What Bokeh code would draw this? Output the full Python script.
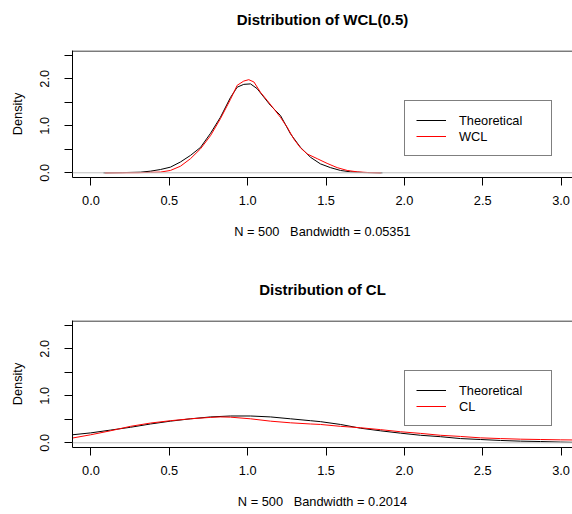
from bokeh.plotting import figure
from bokeh.layouts import column
from bokeh.models import (Range1d, FixedTicker, NumeralTickFormatter, Span,
                          Legend, LegendItem, Title)
from bokeh.embed import file_html
from bokeh.resources import INLINE

# ---------------- data ----------------
x_ticks = [0.0, 0.5, 1.0, 1.5, 2.0, 2.5, 3.0]
y_ticks = [0.0, 0.5, 1.0, 1.5, 2.0, 2.5]

wcl_theo_x = [0.08, 0.2, 0.316, 0.38, 0.444, 0.507, 0.571, 0.635, 0.699, 0.763,
              0.826, 0.89, 0.933, 0.975, 1.018, 1.06, 1.103, 1.146, 1.209,
              1.273, 1.337, 1.401, 1.464, 1.528, 1.592, 1.656, 1.74, 1.86]
wcl_theo_y = [0.0, 0.004, 0.013, 0.035, 0.07, 0.12, 0.23, 0.37, 0.54, 0.84,
              1.18, 1.60, 1.82, 1.88, 1.89, 1.79, 1.61, 1.43, 1.22,
              0.83, 0.54, 0.33, 0.19, 0.11, 0.05, 0.02, 0.005, 0.0]

wcl_x = [0.09, 0.3, 0.38, 0.444, 0.507, 0.571, 0.635, 0.699, 0.763, 0.826,
         0.89, 0.933, 0.975, 1.007, 1.04, 1.082, 1.124, 1.167, 1.209, 1.252,
         1.294, 1.337, 1.38, 1.444, 1.507, 1.571, 1.635, 1.699, 1.77, 1.85]
wcl_y = [0.0, 0.002, 0.01, 0.015, 0.05, 0.14, 0.30, 0.51, 0.79, 1.15,
         1.56, 1.86, 1.95, 1.98, 1.93, 1.71, 1.54, 1.36, 1.18, 0.97,
         0.72, 0.53, 0.40, 0.30, 0.20, 0.11, 0.05, 0.02, 0.005, 0.0]

cl_theo_x = [-0.12, -0.003, 0.124, 0.252, 0.38, 0.507, 0.635, 0.763, 0.89,
             1.018, 1.146, 1.273, 1.401, 1.464, 1.592, 1.72, 1.847, 1.975,
             2.103, 2.23, 2.358, 2.486, 2.613, 2.741, 2.869, 2.996, 3.08]
cl_theo_y = [0.17, 0.21, 0.27, 0.33, 0.40, 0.46, 0.51, 0.55, 0.57,
             0.57, 0.55, 0.51, 0.47, 0.45, 0.39, 0.31, 0.255, 0.205,
             0.16, 0.13, 0.09, 0.07, 0.05, 0.035, 0.027, 0.015, 0.01]

cl_x = [-0.12, -0.003, 0.124, 0.252, 0.38, 0.507, 0.635, 0.763, 0.826, 0.89,
        1.018, 1.146, 1.273, 1.401, 1.464, 1.592, 1.72, 1.847, 1.975, 2.103,
        2.23, 2.358, 2.486, 2.613, 2.741, 2.869, 2.996, 3.08]
cl_y = [0.10, 0.17, 0.255, 0.35, 0.42, 0.47, 0.51, 0.54, 0.55, 0.545,
        0.51, 0.46, 0.425, 0.40, 0.39, 0.35, 0.32, 0.28, 0.235, 0.20,
        0.16, 0.135, 0.105, 0.09, 0.077, 0.07, 0.063, 0.06]

NB = "\u00a0"
panels = [
    dict(title="Distribution of WCL(0.5)",
         sub="N = 500" + NB * 3 + "Bandwidth = 0.05351",
         tx=wcl_theo_x, ty=wcl_theo_y, ex=wcl_x, ey=wcl_y, label="WCL", height=270),
    dict(title="Distribution of CL",
         sub="N = 500" + NB * 3 + "Bandwidth = 0.2014",
         tx=cl_theo_x, ty=cl_theo_y, ex=cl_x, ey=cl_y, label="CL", height=244),
]

FONT = "Liberation Sans"
FS = "12.8px"


def make_panel(d):
    h = d["height"]
    p = figure(width=572, height=h, output_backend="svg", toolbar_location=None,
               x_range=Range1d(-0.118, 3.073), y_range=Range1d(-0.1, 2.6),
               min_border_left=72, min_border_right=0, min_border_top=50,
               min_border_bottom=h - 177)
    p.outline_line_color = None
    p.xgrid.visible = False
    p.ygrid.visible = False
    p.background_fill_color = "white"
    p.border_fill_color = "white"

    # invisible spacer between frame and title
    p.add_layout(Title(text=NB, text_font_size="14px", standoff=0,
                       text_color="white"), "above")

    p.title.text = d["title"]
    p.title.align = "center"
    p.title.text_font = FONT
    p.title.text_font_size = "15px"
    p.title.text_font_style = "bold"
    p.title.text_color = "black"
    p.title.standoff = 10
    p.title.offset = 4

    for ax in (p.xaxis[0], p.yaxis[0]):
        ax.axis_line_color = "black"
        ax.axis_line_width = 1
        ax.major_tick_line_color = "black"
        ax.major_tick_out = 8
        ax.major_tick_in = 0
        ax.minor_tick_line_color = None
        ax.major_label_text_font = FONT
        ax.major_label_text_font_size = FS
        ax.major_label_text_color = "black"
        ax.axis_label_text_font = FONT
        ax.axis_label_text_font_size = FS
        ax.axis_label_text_font_style = "normal"
        ax.axis_label_text_color = "black"

    p.xaxis.ticker = FixedTicker(ticks=x_ticks)
    p.xaxis.formatter = NumeralTickFormatter(format="0.0")
    p.xaxis.major_label_standoff = 10
    p.xaxis.axis_label = d["sub"]
    p.xaxis.axis_label_standoff = 16

    p.yaxis.ticker = FixedTicker(ticks=y_ticks)
    p.yaxis.formatter = NumeralTickFormatter(format="0.0")
    p.yaxis.major_label_overrides = {0.5: "", 1.5: "", 2.5: ""}
    p.yaxis.major_label_orientation = "vertical"
    p.yaxis.major_label_standoff = 15
    p.yaxis.axis_label = "Density"
    p.yaxis.axis_label_standoff = 13

    # zero line (grey) and top edge of box
    p.add_layout(Span(location=0, dimension="width", line_color="#BEBEBE", line_width=1))
    p.add_layout(Span(location=2.589, dimension="width", line_color="black", line_width=1))

    r1 = p.line(d["tx"], d["ty"], line_color="black", line_width=1)
    r2 = p.line(d["ex"], d["ey"], line_color="red", line_width=1)

    leg = Legend(items=[LegendItem(label="Theoretical", renderers=[r1]),
                        LegendItem(label=d["label"], renderers=[r2])],
                 location=(332, 21))
    leg.label_text_font = FONT
    leg.label_text_font_size = FS
    leg.label_text_color = "black"
    leg.padding = 11
    leg.spacing = 0
    leg.label_height = 16
    leg.glyph_height = 16
    leg.glyph_width = 30
    leg.label_standoff = 13
    leg.label_width = 81
    leg.margin = 0
    leg.border_line_color = "black"
    leg.border_line_width = 1
    leg.background_fill_color = "white"
    leg.background_fill_alpha = 1
    p.add_layout(leg, "center")
    return p


figs = [make_panel(d) for d in panels]
layout = column(*figs, spacing=0)
open("out.html", "w").write(file_html(layout, INLINE))
